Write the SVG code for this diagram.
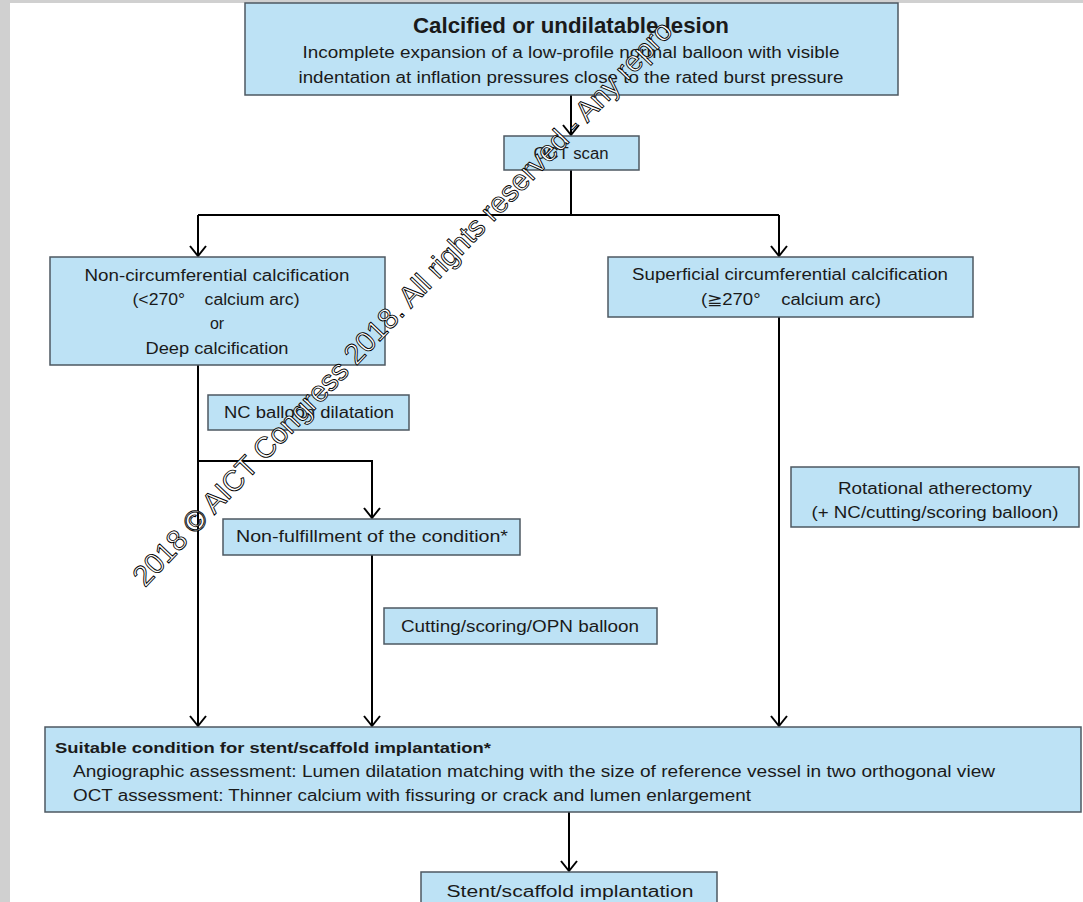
<svg xmlns="http://www.w3.org/2000/svg" width="1083" height="902" viewBox="0 0 1083 902">
<defs>
<style>
.box{fill:#bde2f5;stroke:#4d5861;stroke-width:1.5}
.t{font-family:"Liberation Sans",Arial,sans-serif;font-size:16px;fill:#1a1a1a;text-anchor:middle}
.l{text-anchor:start}
.b{font-weight:bold}
.c{fill:none;stroke:#000;stroke-width:2}
.wm{font-family:"Liberation Sans",Arial,sans-serif;font-size:29px;fill:#fff;stroke:#000;stroke-width:0.9}
</style>
<marker id="ah" markerUnits="userSpaceOnUse" markerWidth="13" markerHeight="19" viewBox="-1 -1 13 19" refX="10" refY="8" orient="auto">
<path d="M0,0 L10,8 L0,16" fill="none" stroke="#000" stroke-width="2"/>
</marker>
</defs>
<rect x="0" y="0" width="1083" height="902" fill="#fff"/>
<rect x="0" y="0" width="10" height="902" fill="#d0d0d0"/>
<rect x="0" y="0" width="1083" height="3" fill="#d0d0d0"/>

<g id="connectors">
<path class="c" d="M571,95 V135" marker-end="url(#ah)"/>
<path class="c" d="M571,170 V215"/>
<path class="c" d="M198,215 H779"/>
<path class="c" d="M198,215 V256" marker-end="url(#ah)"/>
<path class="c" d="M779,215 V256" marker-end="url(#ah)"/>
<path class="c" d="M198,365 V726" marker-end="url(#ah)"/>
<path class="c" d="M198,461 H372 V518" marker-end="url(#ah)"/>
<path class="c" d="M372,555 V726" marker-end="url(#ah)"/>
<path class="c" d="M779,317 V726" marker-end="url(#ah)"/>
<path class="c" d="M569,812 V871" marker-end="url(#ah)"/>
</g>

<g id="n-top">
<rect class="box" x="245" y="3" width="653" height="92"/>
<text class="t b" x="571" y="33" style="font-size:22px" textLength="316" lengthAdjust="spacingAndGlyphs">Calcified or undilatable lesion</text>
<text class="t" x="571" y="58" textLength="537" lengthAdjust="spacingAndGlyphs">Incomplete expansion of a low-profile normal balloon with visible</text>
<text class="t" x="571" y="83" textLength="545" lengthAdjust="spacingAndGlyphs">indentation at inflation pressures close to the rated burst pressure</text>
</g>

<g id="n-oct">
<rect class="box" x="504" y="136" width="135" height="34"/>
<text class="t" x="571" y="159" textLength="75" lengthAdjust="spacingAndGlyphs">OCT scan</text>
</g>

<g id="n-noncirc">
<rect class="box" x="50" y="257" width="335" height="108"/>
<text class="t" x="217" y="281" textLength="265" lengthAdjust="spacingAndGlyphs">Non-circumferential calcification</text>
<text class="t" x="216" y="305" textLength="167" lengthAdjust="spacingAndGlyphs">(&lt;270°&#160;&#160;&#160;&#160;calcium arc)</text>
<text class="t" x="217" y="329">or</text>
<text class="t" x="217" y="354" textLength="143" lengthAdjust="spacingAndGlyphs">Deep calcification</text>
</g>

<g id="n-superficial">
<rect class="box" x="608" y="257" width="365" height="60"/>
<text class="t" x="790" y="280" textLength="316" lengthAdjust="spacingAndGlyphs">Superficial circumferential calcification</text>
<text class="t" x="791" y="305" textLength="180" lengthAdjust="spacingAndGlyphs">(≧270°&#160;&#160;&#160;&#160;calcium arc)</text>
</g>

<g id="n-nc">
<rect class="box" x="208" y="395" width="201" height="35"/>
<text class="t" x="309" y="418" textLength="170" lengthAdjust="spacingAndGlyphs">NC balloon dilatation</text>
</g>

<g id="n-nonfulfill">
<rect class="box" x="223" y="519" width="297" height="36"/>
<text class="t" x="372" y="542" textLength="272" lengthAdjust="spacingAndGlyphs">Non-fulfillment of the condition*</text>
</g>

<g id="n-cutting">
<rect class="box" x="384" y="608" width="273" height="36"/>
<text class="t" x="520" y="632" textLength="238" lengthAdjust="spacingAndGlyphs">Cutting/scoring/OPN balloon</text>
</g>

<g id="n-rota">
<rect class="box" x="791" y="467" width="288" height="60"/>
<text class="t" x="935" y="494" textLength="194" lengthAdjust="spacingAndGlyphs">Rotational atherectomy</text>
<text class="t" x="935" y="518" textLength="247" lengthAdjust="spacingAndGlyphs">(+ NC/cutting/scoring balloon)</text>
</g>

<g id="n-suitable">
<rect class="box" x="45" y="727" width="1036" height="85"/>
<text class="t l b" x="55" y="753" style="font-size:15px" textLength="436" lengthAdjust="spacingAndGlyphs">Suitable condition for stent/scaffold implantation*</text>
<text class="t l" x="73" y="777" textLength="922" lengthAdjust="spacingAndGlyphs">Angiographic assessment: Lumen dilatation matching with the size of reference vessel in two orthogonal view</text>
<text class="t l" x="73" y="801" textLength="678" lengthAdjust="spacingAndGlyphs">OCT assessment: Thinner calcium with fissuring or crack and lumen enlargement</text>
</g>

<g id="n-stent">
<rect class="box" x="421" y="872" width="296" height="40"/>
<text class="t" x="570" y="897" textLength="247" lengthAdjust="spacingAndGlyphs">Stent/scaffold implantation</text>
</g>

<text class="wm" transform="translate(145,588) rotate(-46.4)">2018 © AICT Congress 2018. All rights reserved - Any repro</text>
</svg>
